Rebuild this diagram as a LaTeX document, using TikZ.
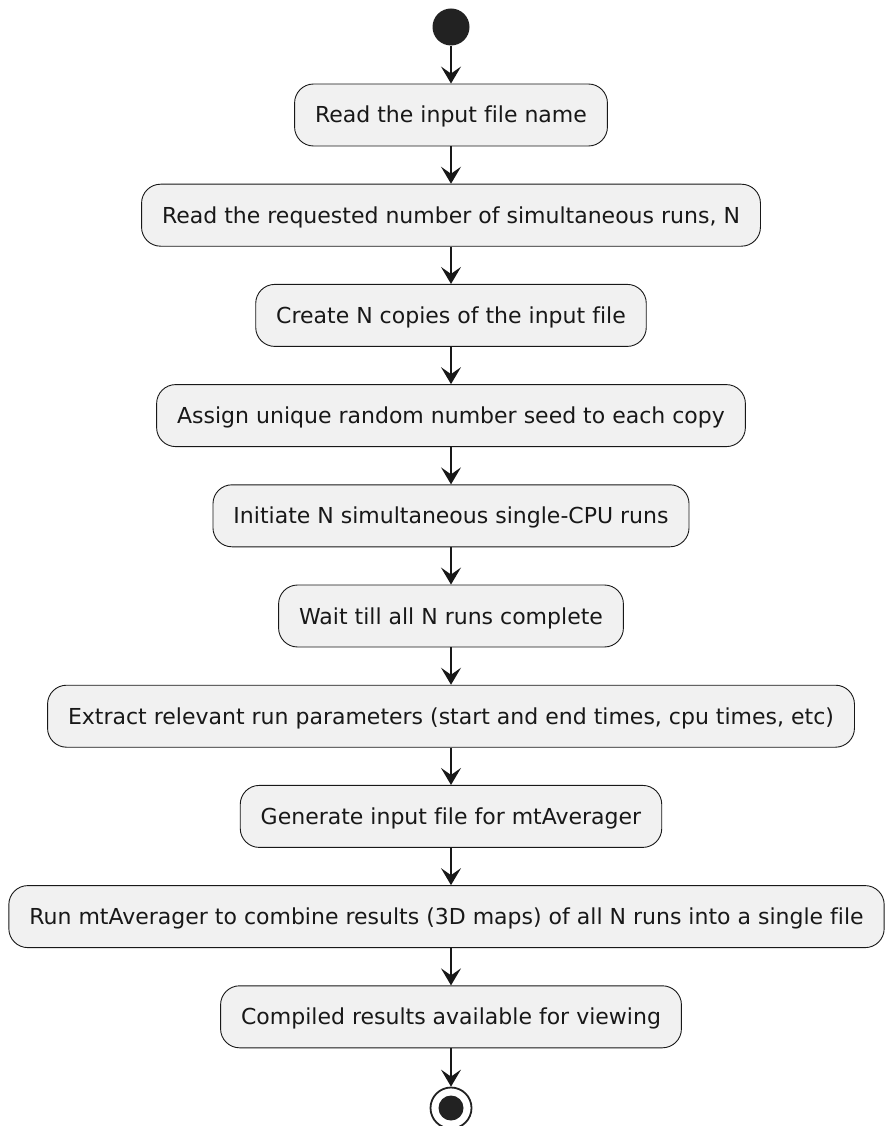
\documentclass[tikz,border=0pt]{standalone}
\usepackage{fontspec}
\setmainfont{DejaVu Sans}[Ligatures=NoCommon]
\usetikzlibrary{arrows.meta}
\definecolor{boxfill}{HTML}{F1F1F1}
\definecolor{ink}{HTML}{181818}
\definecolor{dot}{HTML}{222222}
\begin{document}
\begin{tikzpicture}[x=1pt,y=-1pt,
  act/.style={draw=ink, fill=boxfill, rounded corners=19pt, line width=0.9pt,
    minimum height=62pt, inner xsep=20.5pt, inner ysep=0pt,
    text height=16pt, text depth=0pt, font=\fontsize{22}{26}\selectfont, text=ink},
  flow/.style={draw=ink, line width=1.3pt, -{Stealth[length=17pt,width=20pt,inset=7pt]}}]
\useasboundingbox (0,0) rectangle (885,1126);
\node[circle, fill=dot, minimum size=37pt, inner sep=0pt] (start) at (451,27) {};
\node[act] (a1) at (451,115) {Read the input file name};
\node[act] (a2) at (451,215.2) {Read the requested number of simultaneous runs, N};
\node[act] (a3) at (451,315.4) {Create N copies of the input file};
\node[act] (a4) at (451,415.6) {Assign unique random number seed to each copy};
\node[act] (a5) at (451,515.8) {Initiate N simultaneous single-CPU runs};
\node[act] (a6) at (451,616) {Wait till all N runs complete};
\node[act] (a7) at (451,716.2) {Extract relevant run parameters (start and end times, cpu times, etc)};
\node[act] (a8) at (451,816.4) {Generate input file for mtAverager};
\node[act] (a9) at (446.5,916.6) {Run mtAverager to combine results (3D maps) of all N runs into a single file};
\node[act] (a10) at (451,1016.8) {Compiled results available for viewing};
\node[circle, draw=dot, line width=1.8pt, minimum size=41pt, inner sep=0pt] (stop) at (451,1108) {};
\node[circle, fill=dot, minimum size=25pt, inner sep=0pt] (stopin) at (stop.center) {};
\draw[flow] (start) -- (a1);
\draw[flow] (a1) -- (a2);
\draw[flow] (a2) -- (a3);
\draw[flow] (a3) -- (a4);
\draw[flow] (a4) -- (a5);
\draw[flow] (a5) -- (a6);
\draw[flow] (a6) -- (a7);
\draw[flow] (a7) -- (a8);
\draw[flow] (a8.south) -- (a8.south |- a9.north);
\draw[flow] (a9.south -| a10.north) -- (a10.north);
\draw[flow] (a10) -- (stop);
\end{tikzpicture}
\end{document}
